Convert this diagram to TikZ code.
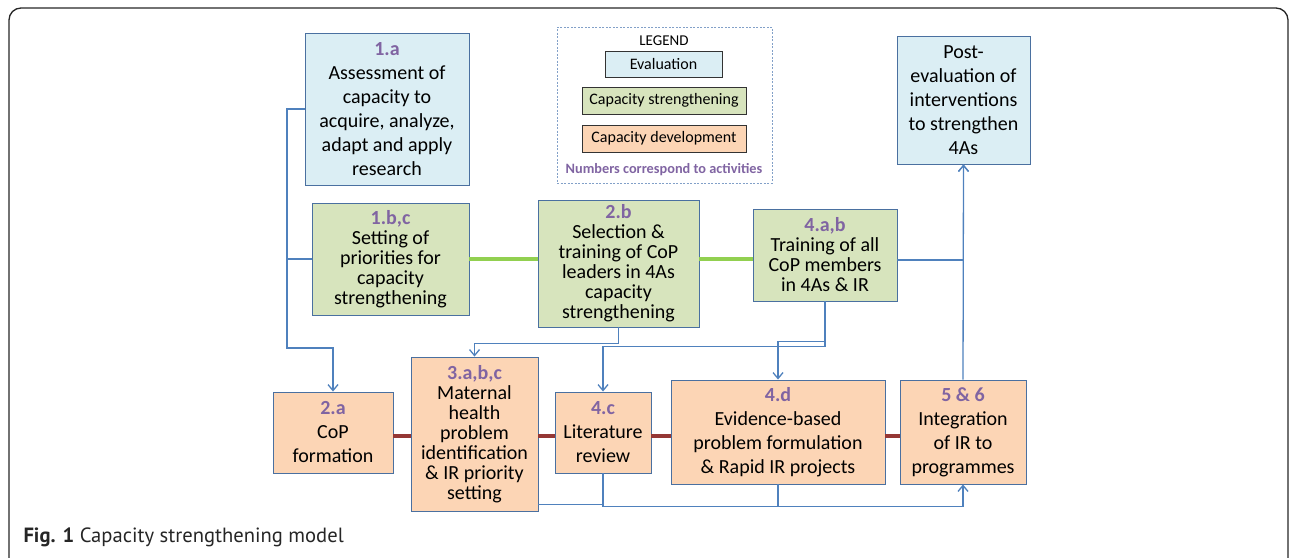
\documentclass[tikz,border=0pt]{standalone}
\usepackage{fontspec}
\setmainfont{Carlito}
\newfontfamily\capfont{PT Sans}
\usetikzlibrary{arrows.meta}

\definecolor{evalfill}{RGB}{219,238,244}
\definecolor{strengthfill}{RGB}{215,228,189}
\definecolor{developfill}{RGB}{252,213,181}
\definecolor{boxline}{RGB}{74,112,160}
\definecolor{linkblue}{RGB}{79,129,189}
\definecolor{numpurple}{RGB}{128,100,162}
\definecolor{greenlink}{RGB}{146,208,80}
\definecolor{redlink}{RGB}{149,55,53}
\definecolor{legendline}{RGB}{130,160,200}

\tikzset{
  stage/.style={draw=boxline, line width=0.9pt, align=center, inner sep=2pt,
    font=\fontsize{20}{24}\selectfont},
  tight/.style={font=\fontsize{20}{20}\selectfont},
  evalbox/.style={stage, fill=evalfill},
  strengthbox/.style={stage, fill=strengthfill},
  developbox/.style={stage, fill=developfill},
  keybox/.style={draw=black!80, line width=0.8pt, font=\fontsize{16}{19}\selectfont},
  link/.style={draw=linkblue, line width=1.3pt},
  arrowlink/.style={link, -{Straight Barb[length=6pt,width=10pt,line width=1.3pt]}},
  strengthlink/.style={draw=greenlink, line width=3.5pt},
  developlink/.style={draw=redlink, line width=3.5pt}
}
\newcommand{\actnum}[1]{{\color{numpurple}\bfseries #1}}

\begin{document}
\begin{tikzpicture}[x=1pt, y=-1pt]
  \useasboundingbox (0,0) rectangle (1293,557);
  % figure frame, open at the bottom
  \draw[line width=1.3pt, black!85, rounded corners=12pt] (9,570) -- (9,8) -- (1288,8) -- (1288,570);

  % legend
  \node[draw=legendline, dashed, dash pattern=on 2pt off 1.5pt, line width=0.8pt,
    minimum width=215pt, minimum height=156pt] (legend) at (664.5,105) {};
  \node[font=\fontsize{15}{18}\selectfont] (legtitle) at (664,41) {LEGEND};
  \node[keybox, fill=evalfill, minimum width=117pt, minimum height=26pt] (legeval) at (663.5,64) {Evaluation};
  \node[keybox, fill=strengthfill, minimum width=164pt, minimum height=27pt] (legstrength) at (664,100.5) {Capacity strengthening};
  \node[keybox, fill=developfill, minimum width=164pt, minimum height=27pt] (legdevelop) at (664,138.5) {Capacity development};
  \node[font=\fontsize{14.3}{17}\selectfont\bfseries, text=numpurple] (legnote) at (664,170) {Numbers correspond to activities};

  % evaluation
  \node[evalbox, minimum width=164pt, minimum height=152pt] (assess) at (387,109)
    {\actnum{1.a}\\Assessment of\\capacity to\\acquire, analyze,\\adapt and apply\\research};
  \node[evalbox, minimum width=133pt, minimum height=128pt] (post) at (963.5,100)
    {Post-\\evaluation of\\interventions\\to strengthen\\4As};

  % capacity strengthening
  \node[strengthbox, tight, minimum width=157pt, minimum height=112pt] (prio) at (390.5,259)
    {\actnum{1.b,c}\\Setting of\\priorities for\\capacity\\strengthening};
  \node[strengthbox, tight, minimum width=161pt, minimum height=127pt] (lead) at (618.5,263.5)
    {\actnum{2.b}\\Selection \&\\training of CoP\\leaders in 4As\\capacity\\strengthening};
  \node[strengthbox, tight, minimum width=144pt, minimum height=92pt] (train) at (825,255)
    {\actnum{4.a,b}\\Training of all\\CoP members\\in 4As \& IR};

  % capacity development
  \node[developbox, minimum width=120pt, minimum height=81pt] (form) at (333,432.5)
    {\actnum{2.a}\\CoP\\formation};
  \node[developbox, tight, minimum width=127pt, minimum height=154pt] (ident) at (474.5,434)
    {\actnum{3.a,b,c}\\Maternal\\health\\problem\\identification\\\& IR priority\\setting};
  \node[developbox, minimum width=96pt, minimum height=81pt] (lit) at (603,432.5)
    {\actnum{4.c}\\Literature\\review};
  \node[developbox, minimum width=214pt, minimum height=104pt] (rapid) at (778,432)
    {\actnum{4.d}\\Evidence-based\\problem formulation\\\& Rapid IR projects};
  \node[developbox, minimum width=126pt, minimum height=104pt] (integ) at (963,432)
    {\actnum{5 \& 6}\\Integration\\of IR to\\programmes};

  % green and red links between boxes of a row
  \draw[strengthlink] (prio.east) -- (prio.east -| lead.west);
  \draw[strengthlink] (prio.east -| lead.east) -- (prio.east -| train.west);
  \draw[developlink] ([yshift=-3.5pt]form.east) -- ([yshift=-3.5pt]form.east -| ident.west);
  \draw[developlink] ([yshift=-3.5pt]form.east -| ident.east) -- ([yshift=-3.5pt]form.east -| lit.west);
  \draw[developlink] ([yshift=-3.5pt]form.east -| lit.east) -- ([yshift=-3.5pt]form.east -| rapid.west);
  \draw[developlink] ([yshift=-3.5pt]form.east -| rapid.east) -- ([yshift=-3.5pt]form.east -| integ.west);

  % blue connectors
  \draw[arrowlink] (assess.west) -- (287,109) -- (287,348) -| (form.north);
  \draw[link] (287,259) -- (prio.west);
  \draw[arrowlink] (lead.south) -- ++(0,16) -| (ident.north);
  \draw[arrowlink] (train.south) -- ++(0,45) -| (lit.north);
  \draw[arrowlink] (train.south) -- ++(0,40) -| (rapid.north);
  \draw[arrowlink] ([yshift=-5pt]train.east) -| (post.south);
  \draw[arrowlink] (integ.north) -- (post.south);
  \draw[link] ([yshift=7pt]ident.south east) -| (lit.south);
  \draw[arrowlink] (lit.south) -- ++(0,33) -| (integ.south);
  \draw[link] (rapid.south) -- ++(0,22);

  % caption
  \node[anchor=west, font=\capfont\fontsize{20.6}{24}\selectfont, text=black!85] (caption) at (20,537)
    {\textbf{Fig. 1} Capacity strengthening model};
\end{tikzpicture}
\end{document}
